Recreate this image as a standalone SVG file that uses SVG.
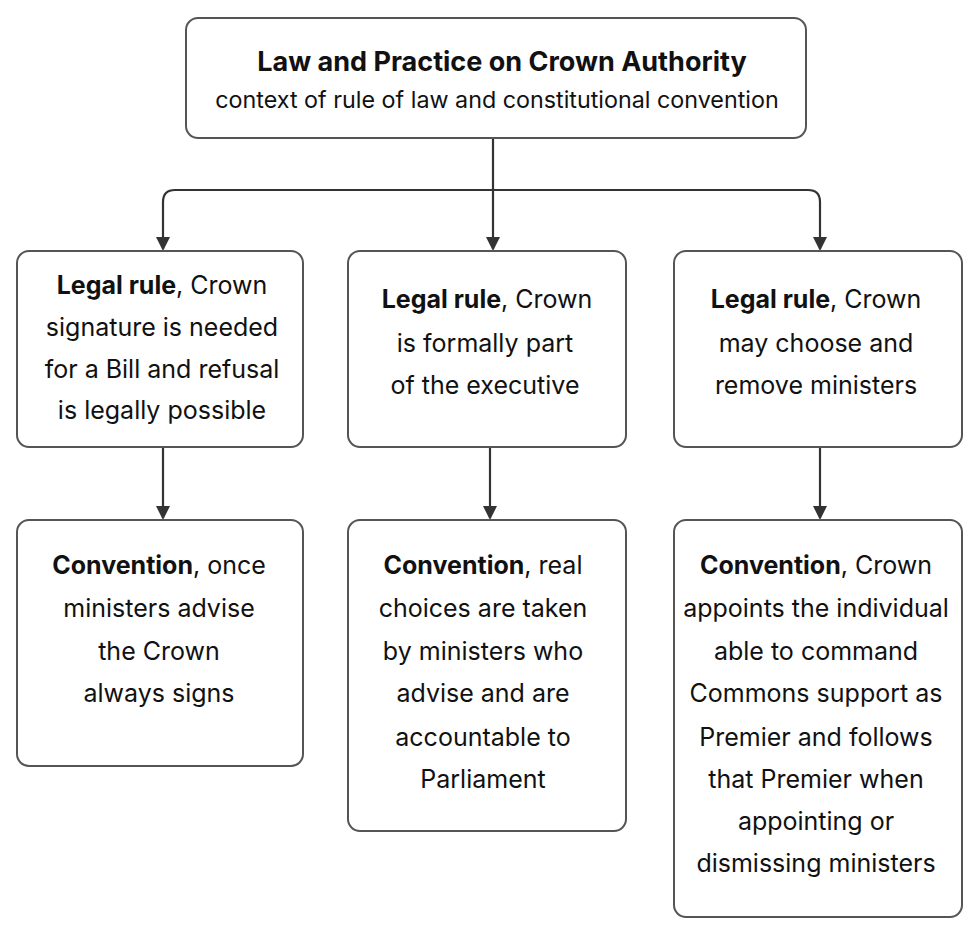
<svg xmlns="http://www.w3.org/2000/svg" width="980" height="936" viewBox="0 0 980 936">
<defs>
<marker id="ah" markerWidth="14" markerHeight="14" refX="12" refY="7" orient="auto" markerUnits="userSpaceOnUse">
<path d="M0,0 L14,7 L0,14 z" fill="#333"/>
</marker>
<style>
.box{fill:#fff;stroke:#555;stroke-width:2}
.t{font-family:Inter,"Liberation Sans",sans-serif;font-size:25px;fill:#111;text-anchor:middle}
.b{font-weight:bold}
.h{font-family:Inter,"Liberation Sans",sans-serif;font-size:27px;font-weight:bold;fill:#111;text-anchor:middle}
.s{font-family:Inter,"Liberation Sans",sans-serif;font-size:23.3px;fill:#111;text-anchor:middle}
.c{fill:none;stroke:#333;stroke-width:2.2}
</style>
</defs>
<rect width="980" height="936" fill="#fff"/>
<g id="connectors">
<path class="c" d="M493,138 V190" />
<path class="c" d="M493,190 H175 Q163,190 163,202 V249" marker-end="url(#ah)"/>
<path class="c" d="M493,190 V249" marker-end="url(#ah)"/>
<path class="c" d="M493,190 H808 Q820,190 820,202 V249" marker-end="url(#ah)"/>
<path class="c" d="M163,447 V518" marker-end="url(#ah)"/>
<path class="c" d="M490,447 V518" marker-end="url(#ah)"/>
<path class="c" d="M820,447 V518" marker-end="url(#ah)"/>
</g>
<g id="root">
<rect class="box" x="186" y="18" width="620" height="120" rx="12"/>
<text class="h" x="502" y="71">Law and Practice on Crown Authority</text>
<text class="s" x="497" y="108">context of rule of law and constitutional convention</text>
</g>
<g id="legal1">
<rect class="box" x="17" y="251" width="286" height="196" rx="12"/>
<text class="t" x="162" y="294"><tspan class="b">Legal rule</tspan>, Crown</text>
<text class="t" x="162" y="336">signature is needed</text>
<text class="t" x="162" y="378">for a Bill and refusal</text>
<text class="t" x="162" y="419">is legally possible</text>
</g>
<g id="legal2">
<rect class="box" x="348" y="251" width="278" height="196" rx="12"/>
<text class="t" x="487" y="308"><tspan class="b">Legal rule</tspan>, Crown</text>
<text class="t" x="485" y="352">is formally part</text>
<text class="t" x="485" y="394">of the executive</text>
</g>
<g id="legal3">
<rect class="box" x="674" y="251" width="288" height="196" rx="12"/>
<text class="t" x="816" y="308"><tspan class="b">Legal rule</tspan>, Crown</text>
<text class="t" x="816" y="352">may choose and</text>
<text class="t" x="816" y="394">remove ministers</text>
</g>
<g id="conv1">
<rect class="box" x="17" y="520" width="286" height="246" rx="12"/>
<text class="t" x="159" y="574"><tspan class="b">Convention</tspan>, once</text>
<text class="t" x="159" y="617">ministers advise</text>
<text class="t" x="159" y="660">the Crown</text>
<text class="t" x="159" y="702">always signs</text>
</g>
<g id="conv2">
<rect class="box" x="348" y="520" width="278" height="311" rx="12"/>
<text class="t" x="483" y="574"><tspan class="b">Convention</tspan>, real</text>
<text class="t" x="483" y="617">choices are taken</text>
<text class="t" x="483" y="660">by ministers who</text>
<text class="t" x="483" y="702">advise and are</text>
<text class="t" x="483" y="746">accountable to</text>
<text class="t" x="483" y="788">Parliament</text>
</g>
<g id="conv3">
<rect class="box" x="674" y="520" width="288" height="397" rx="12"/>
<text class="t" x="816" y="574"><tspan class="b">Convention</tspan>, Crown</text>
<text class="t" x="816" y="617">appoints the individual</text>
<text class="t" x="816" y="660">able to command</text>
<text class="t" x="816" y="702">Commons support as</text>
<text class="t" x="816" y="746">Premier and follows</text>
<text class="t" x="816" y="788">that Premier when</text>
<text class="t" x="816" y="830">appointing or</text>
<text class="t" x="816" y="872">dismissing ministers</text>
</g>
</svg>
